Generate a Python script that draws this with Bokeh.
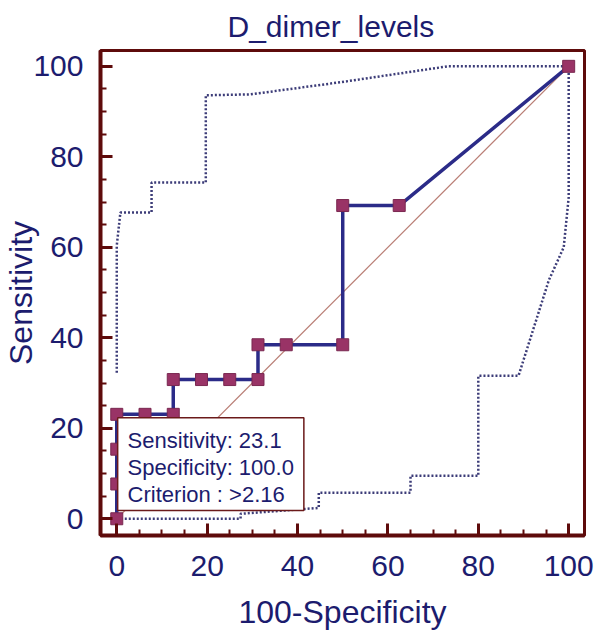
from bokeh.plotting import figure
from bokeh.models import Range1d, FixedTicker, BoxAnnotation, Label
from bokeh.embed import file_html
from bokeh.resources import INLINE

# ROC curve (100-Specificity, Sensitivity)
fpr = [0, 0, 0, 0, 6.25, 12.5, 12.5, 18.75, 25, 31.25, 31.25, 37.5, 50, 50, 62.5, 100]
sens = [0, 7.69, 15.38, 23.08, 23.08, 23.08, 30.77, 30.77, 30.77, 30.77, 38.46, 38.46, 38.46, 69.23, 69.23, 100]

# confidence bounds (dotted)
upper_x = [0, 0, 0.8, 7.7, 7.7, 19.7, 19.7, 29.6, 49.6, 73.2, 100]
upper_y = [32.3, 60.4, 67.7, 67.7, 74.3, 74.3, 93.6, 93.8, 96.5, 100, 100]
lower_x = [0, 27.4, 27.4, 44.7, 44.7, 65, 65, 80, 80, 88.9, 95.6, 98.9, 100, 100]
lower_y = [0, 0, 1.1, 2.4, 5.75, 5.75, 9.5, 9.5, 31.6, 31.6, 52.7, 60, 71, 100]

diag = [0, 100]
major_ticks = [0, 20, 40, 60, 80, 100]
minor_ticks = [0, 5, 10, 15, 20, 25, 30, 35, 40, 45, 50, 55, 60, 65, 70, 75, 80, 85, 90, 95, 100]

info_lines = ["Sensitivity: 23.1", "Specificity: 100.0", "Criterion : >2.16"]

NAVY = "#1c1c6e"
MAROON = "#5e0b0b"
FONT = "Liberation Sans"

p = figure(width=600, height=638, output_backend="svg", toolbar_location=None,
           x_range=Range1d(-3.6, 103.5), y_range=Range1d(-3.7, 103.5),
           min_border_left=100, min_border_top=50, min_border_right=16, min_border_bottom=103)
p.background_fill_color = "white"
p.border_fill_color = "white"
p.xgrid.visible = False
p.ygrid.visible = False
p.outline_line_color = MAROON
p.outline_line_width = 3

p.title.text = "D_dimer_levels"
p.title.text_font = FONT
p.title.text_font_size = "30px"
p.title.text_font_style = "normal"
p.title.text_color = NAVY
p.title.align = "left"
p.title.offset = 127
p.title.standoff = 15

for ax in (p.xaxis[0], p.yaxis[0]):
    ax.ticker = FixedTicker(ticks=major_ticks, minor_ticks=minor_ticks)
    ax.axis_line_color = MAROON
    ax.axis_line_width = 4
    ax.major_tick_line_color = MAROON
    ax.major_tick_line_width = 3
    ax.minor_tick_line_color = MAROON
    ax.minor_tick_line_width = 2
    ax.major_tick_in = 12
    ax.major_tick_out = 0
    ax.minor_tick_in = 6
    ax.minor_tick_out = 0
    ax.major_label_text_font = FONT
    ax.major_label_text_font_size = "30px"
    ax.major_label_text_color = NAVY
    ax.axis_label_text_font = FONT
    ax.axis_label_text_font_size = "32px"
    ax.axis_label_text_font_style = "normal"
    ax.axis_label_text_color = NAVY

p.xaxis.axis_label = "100-Specificity"
p.yaxis.axis_label = "Sensitivity"
p.xaxis.major_label_standoff = 20
p.yaxis.major_label_standoff = 17
p.xaxis.axis_label_standoff = 15
p.yaxis.axis_label_standoff = -9

# diagonal reference
p.line(diag, diag, line_color="#b97d74", line_width=1.2)
# confidence bounds
p.line(upper_x, upper_y, line_color="#3c3c78", line_width=2.5, line_dash="2 2")
p.line(lower_x, lower_y, line_color="#3c3c78", line_width=2.5, line_dash="2 2")
# ROC curve
p.line(fpr, sens, line_color="#2b2b88", line_width=3.5)
p.scatter(fpr, sens, marker="square", size=12, fill_color="#993366", line_color="#7a2850")

# info box
box = BoxAnnotation(left=0.2, right=41.4, bottom=1.8, top=22.3,
                    fill_color="white", fill_alpha=1.0, line_color="#6b1a1a",
                    line_alpha=1.0, line_width=1.5)
p.add_layout(box)
for i, t in enumerate(info_lines):
    p.add_layout(Label(x=2.4, y=17.2 - 5.96 * i, text=t, text_font=FONT, text_font_size="22px",
                       text_color=NAVY, text_baseline="alphabetic"))

open("out.html", "w").write(file_html(p, INLINE))
